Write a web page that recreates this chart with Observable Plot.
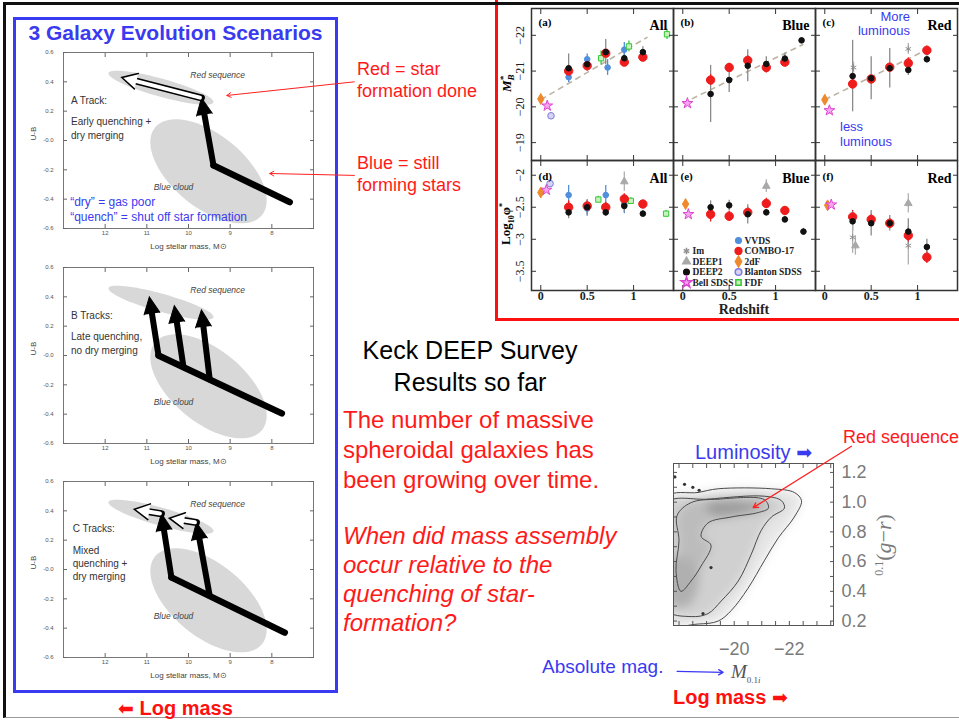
<!DOCTYPE html>
<html><head><meta charset="utf-8">
<script src="https://cdn.jsdelivr.net/npm/d3@7"></script>
<script src="https://cdn.jsdelivr.net/npm/@observablehq/plot@0.6"></script>
<style>
body{margin:0;background:#fff;}
#slide{position:relative;width:959px;height:720px;overflow:hidden;background:#fff;font-family:Arial,"Liberation Sans",sans-serif;}
.abs{position:absolute;white-space:nowrap;}
.rot{position:absolute;white-space:nowrap;transform:translate(-50%,-50%) rotate(-90deg);}
.arw{font-family:"DejaVu Sans",sans-serif;font-weight:normal;}
</style></head><body><div id="slide"></div>
<script>
// ================= DATA =================
// --- left: three evolution scenario panels (log stellar mass vs U-B) ---
const massTicks = [12, 11, 10, 9, 8];
const colorTicks = [-0.6, -0.4, -0.2, 0, 0.2, 0.4, 0.6];
const colorTickLabels = ["-0.6", "-0.4", "-0.2", "-0.0", "0.2", "0.4", "0.6"];
// regions: centre (mass, U-B) and two half-axis vectors in data units
const regionNames = ["Red sequence", "Blue cloud"];
const regionCentre = [[10.66, 0.36], [9.52, -0.21]];
const regionAxisA = [[-1.26, -0.10], [-1.28, -0.30]];
const regionAxisB = [[0.06, -0.059], [0.56, -0.19]];
const regionLabelPos = [[9.3, 0.445], [10.36, -0.32]];
// tracks: [panel, mass1, color1, mass2, color2]
const tracksMain = [
  ["A", 7.57, -0.42, 9.40, -0.17],
  ["B", 7.76, -0.395, 10.72, 0.0],
  ["C", 7.69, -0.43, 10.41, -0.054]
];
const tracksQuench = [
  ["A", 9.40, -0.17, 9.69, 0.29],
  ["B", 10.72, 0.0, 10.94, 0.40],
  ["B", 10.12, -0.08, 10.34, 0.34],
  ["B", 9.49, -0.164, 9.69, 0.31],
  ["C", 10.41, -0.054, 10.65, 0.38],
  ["C", 9.49, -0.181, 9.81, 0.32]
];
const tracksDryMerge = [
  ["A", 9.69, 0.29, 11.6, 0.43],
  ["C", 10.65, 0.38, 11.3, 0.41],
  ["C", 9.81, 0.32, 10.46, 0.35]
];
const panelNotes = [
  ["A", 12.82, 0.27, "A Track:"],
  ["A", 12.82, 0.13, "Early quenching +"],
  ["A", 12.82, 0.035, "dry merging"],
  ["B", 12.82, 0.27, "B Tracks:"],
  ["B", 12.82, 0.13, "Late quenching,"],
  ["B", 12.82, 0.03, "no dry merging"],
  ["C", 12.78, 0.28, "C Tracks:"],
  ["C", 12.78, 0.13, "Mixed"],
  ["C", 12.78, 0.04, "quenching +"],
  ["C", 12.78, -0.05, "dry merging"]
];
const blueNotes = [
  [12.84, -0.42, "\u201Cdry\u201D = gas poor"],
  [12.84, -0.525, "\u201Cquench\u201D = shut off star formation"]
];
const redPointers = [[6.02, 0.40, 9.08, 0.307], [6.02, -0.238, 8.05, -0.225]];

// --- top right: luminosity function parameters vs redshift ---
const surveys = ["Im", "DEEP1", "DEEP2", "Bell SDSS", "VVDS", "COMBO-17", "2dF", "Blanton SDSS", "FDF"];
const surveySymbol = ["asterisk", "triangle", "circle", "star", "circle", "circle", "diamond", "circle", "square"];
const surveyFill = ["none", "#a9a9a9", "#111111", "#f6a6ee", "#4f8fdc", "#ee1c1c", "#ef8a2c", "#d8d2f4", "#c6f2be"];
const surveyStroke = ["#8f8f8f", "#a9a9a9", "#111111", "#dd44d4", "#4f8fdc", "#ee1c1c", "#ef8a2c", "#7c7ce0", "#36c636"];
const surveyR = [3, 2.8, 2.8, 3.4, 2.8, 4.2, 3.3, 3.3, 3];
const surveyErr = ["#b0b0b0", "#b0b0b0", "#8a8a8a", "#dd44d4", "#4f8fdc", "#ee1c1c", "#ef8a2c", "#7c7ce0", "#36c636"];
const drawOrder = ["VVDS", "FDF", "Im", "DEEP1", "COMBO-17", "DEEP2", "2dF", "Bell SDSS", "Blanton SDSS"];
// [panel, survey, z, M*_B, error]
const magRows = [
  ["a","2dF",0.0,-20.22,0.05],["a","Bell SDSS",0.07,-20.03,0.1],["a","Blanton SDSS",0.11,-19.75,0.05],
  ["a","DEEP2",0.3,-21.08,0.4],["a","COMBO-17",0.3,-21.0,0.15],["a","VVDS",0.3,-20.83,0.15],
  ["a","DEEP2",0.5,-21.19,0.2],["a","COMBO-17",0.5,-21.15,0.1],["a","VVDS",0.5,-21.33,0.15],
  ["a","FDF",0.65,-21.36,0.2],["a","DEEP2",0.7,-21.53,0.35],["a","COMBO-17",0.7,-21.5,0.1],["a","VVDS",0.72,-21.1,0.22],
  ["a","DEEP2",0.9,-21.36,0.2],["a","COMBO-17",0.9,-21.25,0.1],["a","VVDS",0.9,-21.6,0.2],["a","FDF",0.95,-21.69,0.15],
  ["a","DEEP2",1.1,-21.53,0.15],["a","COMBO-17",1.1,-21.39,0.1],["a","VVDS",1.1,-21.42,0.15],["a","FDF",1.36,-22.03,0.15],
  ["b","Bell SDSS",0.05,-20.1,0.05],["b","DEEP2",0.3,-20.36,0.8],["b","COMBO-17",0.3,-20.75,0.15],
  ["b","DEEP2",0.5,-20.75,0.35],["b","COMBO-17",0.5,-21.1,0.12],["b","DEEP2",0.7,-21.15,0.45],["b","COMBO-17",0.7,-21.3,0.12],
  ["b","DEEP2",0.9,-21.2,0.2],["b","COMBO-17",0.9,-21.1,0.15],["b","DEEP2",1.1,-21.35,0.15],["b","COMBO-17",1.1,-21.25,0.12],
  ["b","DEEP2",1.28,-21.86,0.05],
  ["c","2dF",0.0,-20.2,0.05],["c","Bell SDSS",0.05,-19.9,0.1],["c","DEEP2",0.3,-20.86,1.0],["c","Im",0.31,-21.1,0.15],
  ["c","COMBO-17",0.3,-20.64,0.12],["c","DEEP2",0.5,-20.8,0.6],["c","COMBO-17",0.5,-20.78,0.1],
  ["c","DEEP2",0.7,-21.08,0.55],["c","COMBO-17",0.7,-21.11,0.1],["c","DEEP2",0.9,-21.03,0.15],["c","COMBO-17",0.9,-21.22,0.15],
  ["c","Im",0.9,-21.62,0.15],["c","DEEP2",1.1,-21.33,0.1],["c","COMBO-17",1.1,-21.58,0.12]
];
// [panel, survey, z, log10 phi*, error]
const phiRows = [
  ["d","2dF",0.0,-2.27,0.03],["d","Bell SDSS",0.06,-2.23,0.03],["d","Blanton SDSS",0.1,-2.13,0.03],
  ["d","VVDS",0.3,-2.31,0.15],["d","COMBO-17",0.3,-2.5,0.1],["d","DEEP2",0.3,-2.58,0.1],
  ["d","VVDS",0.5,-2.52,0.12],["d","COMBO-17",0.5,-2.48,0.08],["d","DEEP2",0.5,-2.5,0.12],["d","FDF",0.62,-2.38,0.05],
  ["d","VVDS",0.7,-2.31,0.15],["d","COMBO-17",0.7,-2.5,0.08],["d","DEEP2",0.7,-2.58,0.06],
  ["d","DEEP1",0.9,-2.1,0.15],["d","VVDS",0.9,-2.45,0.15],["d","COMBO-17",0.9,-2.37,0.08],["d","DEEP2",0.9,-2.48,0.1],
  ["d","FDF",0.97,-2.4,0.05],["d","VVDS",1.1,-2.45,0.05],["d","COMBO-17",1.1,-2.45,0.05],["d","DEEP2",1.1,-2.6,0.05],
  ["d","FDF",1.35,-2.6,0.05],
  ["e","2dF",0.03,-2.45,0.03],["e","Bell SDSS",0.06,-2.61,0.03],["e","DEEP2",0.3,-2.5,0.1],["e","COMBO-17",0.3,-2.61,0.12],
  ["e","DEEP2",0.5,-2.47,0.08],["e","COMBO-17",0.5,-2.64,0.08],["e","COMBO-17",0.7,-2.58,0.08],["e","DEEP2",0.7,-2.61,0.15],
  ["e","DEEP1",0.9,-2.17,0.1],["e","COMBO-17",0.9,-2.44,0.08],["e","DEEP2",0.9,-2.58,0.05],
  ["e","COMBO-17",1.1,-2.55,0.05],["e","DEEP2",1.1,-2.69,0.05],["e","DEEP2",1.3,-2.88,0.05],
  ["f","2dF",0.03,-2.47,0.03],["f","Bell SDSS",0.07,-2.46,0.03],["f","COMBO-17",0.3,-2.65,0.1],["f","DEEP2",0.3,-2.72,0.15],
  ["f","Im",0.3,-2.97,0.25],["f","DEEP1",0.33,-3.1,0.15],["f","COMBO-17",0.5,-2.69,0.08],["f","DEEP2",0.5,-2.75,0.2],
  ["f","COMBO-17",0.7,-2.75,0.08],["f","DEEP2",0.7,-2.75,0.12],["f","DEEP1",0.9,-2.44,0.15],["f","Im",0.9,-3.1,0.3],
  ["f","DEEP2",0.9,-2.88,0.2],["f","COMBO-17",0.9,-2.94,0.1],["f","COMBO-17",1.1,-3.28,0.1],["f","DEEP2",1.1,-3.12,0.12]
];
const fitLines = [["a",0.0,-20.2,1.15,-21.95],["b",0.0,-20.1,1.3,-21.75],["c",0.0,-20.2,1.1,-21.6]];
const panelTags = [["a","(a)","All"],["b","(b)","Blue"],["c","(c)","Red"],["d","(d)","All"],["e","(e)","Blue"],["f","(f)","Red"]];
const zTicks = [0, 0.5, 1];
const magTicks = [-22, -21, -20, -19];
const phiTicks = [-2, -2.5, -3, -3.5];
const legendLeft = ["Im", "DEEP1", "DEEP2", "Bell SDSS"];
const legendRight = ["VVDS", "COMBO-17", "2dF", "Blanton SDSS", "FDF"];

// --- bottom right: colour-magnitude density (SDSS) ---
const contourOuter = [[-17.5,1.03],[-18.69,1.065],[-19.42,1.09],[-21.35,1.09],[-22.18,1.065],[-22.44,1.01],[-22.18,0.90],[-21.6,0.76],[-21.09,0.605],[-20.5,0.42],[-19.89,0.27],[-19.42,0.2],[-18.7,0.18],[-17.5,0.19]];
const contourMiddle = [[-17.5,0.99],[-19.05,1.02],[-21.09,1.04],[-21.71,1.01],[-21.82,0.96],[-21.35,0.90],[-20.98,0.81],[-20.62,0.65],[-20.15,0.47],[-19.53,0.335],[-19.05,0.25],[-18.44,0.23],[-17.5,0.28]];
const contourInner = [[-18.44,0.997],[-19.42,1.02],[-21.09,1.017],[-21.24,0.96],[-20.87,0.93],[-19.89,0.90],[-19.05,0.86],[-18.8,0.77],[-19.16,0.71],[-18.8,0.57],[-18.44,0.47],[-18.07,0.40],[-17.89,0.54],[-18.0,0.74],[-17.93,0.91]];
const coreRed = [[-19.0,0.98],[-20.2,1.0],[-20.9,0.97],[-20.3,0.93],[-19.2,0.92]];
const coreBlue = [[-17.7,0.62],[-18.5,0.6],[-18.7,0.45],[-18.3,0.3],[-17.7,0.32]];
const outliers = [[-17.85,1.17],[-18.73,1.08],[-18.5,1.1],[-19.16,0.56],[-18.87,0.25],[-18.2,1.12]];
const grTicks = [0.2, 0.4, 0.6, 0.8, 1.0, 1.2];
const absMagTicks = [-20, -22];
const densityPointers = [["#ff2020", -24.25, 1.376, -20.69, 0.963], ["#3a3af0", -17.93, -0.138, -19.6, -0.145]];

// ================= LAYOUT HELPERS =================
const slide = document.getElementById("slide");
function place(el, left, top) {
  el.style.position = "absolute"; el.style.left = left + "px"; el.style.top = top + "px";
  el.style.overflow = "visible"; el.style.background = "transparent"; el.style.maxWidth = "none";
  slide.appendChild(el); return el;
}
function text(html, left, top, css, cls = "abs") {
  const d = document.createElement("div"); d.className = cls; d.innerHTML = html;
  d.style.cssText += css; d.style.left = left + "px"; d.style.top = top + "px";
  slide.appendChild(d); return d;
}
function box(left, top, w, h, css) {
  const d = document.createElement("div");
  d.style.cssText = `position:absolute;left:${left}px;top:${top}px;width:${w}px;height:${h}px;box-sizing:border-box;` + css;
  slide.appendChild(d); return d;
}

// ================= FRAMES =================
box(495, -5, 480, 326, "border:3px solid #ff1010;");
box(3, 2, 970, 716, "border-top:3px solid #111;border-left:3px solid #111;border-bottom:1px solid #999;");
box(13, 17, 325, 676, "border:3px solid #3a3af0;");

// ================= LEFT PANELS =================
const TRACK = {width: 330, height: 216, ml: 30, mr: 50, mt: 10, mb: 30, x: [13, 7], y: [-0.6, 0.6]};
const kx = (TRACK.width - TRACK.ml - TRACK.mr) / (TRACK.x[1] - TRACK.x[0]);
const ky = (TRACK.height - TRACK.mt - TRACK.mb) / (TRACK.y[1] - TRACK.y[0]);
const heading = d => Math.atan2((d.x2 - d.x1) * kx, (d.y2 - d.y1) * ky) * 180 / Math.PI;

const regionPts = regionNames.flatMap((name, k) => d3.range(0, 73).map(i => {
  const t = i / 72 * 2 * Math.PI;
  return {name,
    x: regionCentre[k][0] + regionAxisA[k][0] * Math.cos(t) + regionAxisB[k][0] * Math.sin(t),
    y: regionCentre[k][1] + regionAxisA[k][1] * Math.cos(t) + regionAxisB[k][1] * Math.sin(t)};
}));
const regionLabels = regionNames.map((name, k) => ({name, x: regionLabelPos[k][0], y: regionLabelPos[k][1]}));
const toSeg = r => ({p: r[0], x1: r[1], y1: r[2], x2: r[3], y2: r[4]});

function trackPanel(p, top) {
  const main = tracksMain.filter(r => r[0] === p).map(toSeg);
  const quench = tracksQuench.filter(r => r[0] === p).map(toSeg);
  const dry = tracksDryMerge.filter(r => r[0] === p).map(toSeg);
  const notes = panelNotes.filter(r => r[0] === p).map(r => ({x: r[1], y: r[2], t: r[3]}));
  const seg = {x1: "x1", y1: "y1", x2: "x2", y2: "y2"};
  const marks = [
    Plot.line(regionPts, {x: "x", y: "y", z: "name", fill: "#d8d8d8", stroke: "none", curve: "linear-closed"}),
    Plot.frame({stroke: "#777", strokeWidth: 1}),
    Plot.axisX({anchor: "bottom", ticks: massTicks, tickSize: 0, tickPadding: 2, fontSize: 6, fill: "#555", tickFormat: d => String(d), label: null}),
    Plot.axisX({anchor: "bottom", ticks: massTicks, tickSize: -4, stroke: "#666", tickFormat: () => "", label: null}),
    Plot.axisX({anchor: "top", ticks: massTicks, tickSize: -4, stroke: "#666", tickFormat: () => "", label: null}),
    Plot.axisY({anchor: "left", ticks: colorTicks, tickSize: 0, tickPadding: 10, fontSize: 6, fill: "#555", tickFormat: (d, i) => colorTickLabels[i], label: null}),
    Plot.axisY({anchor: "left", ticks: colorTicks, tickSize: -4, stroke: "#666", tickFormat: () => "", label: null}),
    Plot.axisY({anchor: "right", ticks: colorTicks, tickSize: -4, stroke: "#666", tickFormat: () => "", label: null}),
    Plot.text(["Log stellar mass, M\u2299"], {frameAnchor: "bottom", dy: 20, fontSize: 8, fill: "#444"}),
    Plot.text(["U-B"], {frameAnchor: "left", dx: -30, rotate: -90, fontSize: 8, fill: "#444"}),
    Plot.text(regionLabels, {x: "x", y: "y", text: "name", fontSize: 8.5, fontStyle: "italic", fill: "#444"}),
    Plot.text(notes, {x: "x", y: "y", text: "t", textAnchor: "start", fontSize: 10, fill: "#333"}),
    Plot.link(main, {...seg, stroke: "#000", strokeWidth: 6.5, strokeLinecap: "round"}),
    // quenching: solid shaft + filled head
    Plot.arrow(quench, {...seg, stroke: "#000", strokeWidth: 6, headLength: 0, insetEnd: 11}),
    Plot.vector(quench, {x: "x2", y: "y2", rotate: heading, length: 17, r: 8, shape: "spike", anchor: "end", fill: "#000", stroke: "#000", strokeWidth: 1, strokeLinejoin: "miter"}),
    // dry merging: hollow arrow
    Plot.arrow(dry, {...seg, stroke: "#000", strokeWidth: 7, headLength: 0, insetEnd: 10}),
    Plot.arrow(dry, {...seg, stroke: "#fff", strokeWidth: 4, headLength: 0, insetStart: 1.5, insetEnd: 9}),
    Plot.vector(dry, {x: "x2", y: "y2", rotate: heading, length: 15, r: 8, shape: "spike", anchor: "end", fill: "#fff", stroke: "#000", strokeWidth: 1.5, strokeLinejoin: "miter"})
  ];
  if (p === "A") {
    marks.push(Plot.text(blueNotes, {x: d => d[0], y: d => d[1], text: d => d[2], textAnchor: "start", fontSize: 12, fill: "#3a3af0"}));
    marks.push(Plot.arrow(redPointers, {x1: d => d[0], y1: d => d[1], x2: d => d[2], y2: d => d[3], stroke: "#ff2020", strokeWidth: 1, headLength: 7}));
  }
  const svg = Plot.plot({
    width: TRACK.width, height: TRACK.height, marginLeft: TRACK.ml, marginRight: TRACK.mr, marginTop: TRACK.mt, marginBottom: TRACK.mb,
    style: {fontFamily: "Arial, sans-serif", background: "transparent", overflow: "visible"},
    x: {domain: TRACK.x, label: null}, y: {domain: TRACK.y, label: null},
    marks
  });
  place(svg, 33, top);
}
trackPanel("A", 42);
trackPanel("B", 257);
trackPanel("C", 471);

// ================= TOP RIGHT: redshift evolution =================
const toPt = r => ({panel: r[0], survey: r[1], z: r[2], v: r[3], e: r[4]});
const magData = magRows.map(toPt);
const phiData = phiRows.map(toPt);
const sIdx = s => surveys.indexOf(s);
function pointMarks(data) {
  const m = [Plot.ruleX(data, {fx: "panel", x: "z", y1: d => d.v - d.e, y2: d => d.v + d.e, stroke: d => surveyErr[sIdx(d.survey)], strokeWidth: 1.3})];
  for (const s of drawOrder) {
    const k = sIdx(s);
    m.push(Plot.dot(data.filter(d => d.survey === s), {fx: "panel", x: "z", y: "v", symbol: surveySymbol[k], r: surveyR[k], fill: surveyFill[k], stroke: surveyStroke[k], strokeWidth: 1}));
  }
  return m;
}
function frameAxes(yTicks) {
  return [
    Plot.frame({stroke: "#333", strokeWidth: 1.5}),
    Plot.axisX({anchor: "bottom", ticks: zTicks, tickSize: -5, stroke: "#333", tickFormat: () => "", label: null, facetAnchor: null}),
    Plot.axisX({anchor: "top", ticks: zTicks, tickSize: -5, stroke: "#333", tickFormat: () => "", label: null, facetAnchor: null}),
    Plot.axisY({anchor: "left", ticks: yTicks, tickSize: -5, stroke: "#333", tickFormat: () => "", label: null, facetAnchor: null}),
    Plot.axisY({anchor: "right", ticks: yTicks, tickSize: -5, stroke: "#333", tickFormat: () => "", label: null, facetAnchor: null}),
    Plot.axisY({anchor: "left", ticks: yTicks, tickSize: 0, tickPadding: 8, tickRotate: -90, fontSize: 12, fill: "#222", tickFormat: d => "\u2212" + Math.abs(d), label: null})
  ];
}
const tagsTop = panelTags.slice(0, 3).map(r => ({panel: r[0], tag: r[1], group: r[2]}));
const tagsBottom = panelTags.slice(3).map(r => ({panel: r[0], tag: r[1], group: r[2]}));
const serif = "'Liberation Serif', 'DejaVu Serif', serif";
const topPlot = Plot.plot({
  width: 464, height: 160, marginLeft: 36, marginRight: 2, marginTop: 8, marginBottom: 0,
  style: {fontFamily: serif, background: "transparent", overflow: "visible"},
  fx: {domain: ["a", "b", "c"], axis: null, padding: 0, label: null},
  x: {domain: [-0.1, 1.43], label: null},
  y: {domain: [-18.5, -22.75], label: null},
  marks: [
    Plot.link(fitLines, {fx: d => d[0], x1: d => d[1], y1: d => d[2], x2: d => d[3], y2: d => d[4], stroke: "#bdb3a3", strokeWidth: 1.6, strokeDasharray: "6,4"}),
    ...pointMarks(magData),
    ...frameAxes(magTicks),
    Plot.text(tagsTop, {fx: "panel", text: "tag", frameAnchor: "top-left", dx: 7, dy: 10, fontSize: 11, fontWeight: "bold"}),
    Plot.text(tagsTop, {fx: "panel", text: "group", frameAnchor: "top-right", dx: -6, dy: 12, fontSize: 14, fontWeight: "bold"})
  ]
});
place(topPlot, 495, 0);
const bottomPlot = Plot.plot({
  width: 464, height: 160, marginLeft: 36, marginRight: 2, marginTop: 0, marginBottom: 30,
  style: {fontFamily: serif, background: "transparent", overflow: "visible"},
  fx: {domain: ["d", "e", "f"], axis: null, padding: 0, label: null},
  x: {domain: [-0.1, 1.43], label: null},
  y: {domain: [-3.8, -1.77], label: null},
  marks: [
    ...pointMarks(phiData),
    ...frameAxes(phiTicks),
    Plot.axisX({anchor: "bottom", ticks: zTicks, tickSize: 0, tickPadding: 1, fontSize: 12, fontWeight: "bold", fill: "#222", tickFormat: d => String(d), label: null}),
    Plot.text(tagsBottom, {fx: "panel", text: "tag", frameAnchor: "top-left", dx: 7, dy: 12, fontSize: 11, fontWeight: "bold"}),
    Plot.text(tagsBottom, {fx: "panel", text: "group", frameAnchor: "top-right", dx: -6, dy: 13, fontSize: 14, fontWeight: "bold"})
  ]
});
place(bottomPlot, 495, 160);

// legend (inside panel e)
const legendItems = [...legendLeft.map((s, i) => ({s, col: 0, row: i + 1})), ...legendRight.map((s, i) => ({s, col: 1, row: i}))];
const legendPlot = Plot.plot({
  width: 140, height: 56, margin: 0,
  style: {fontFamily: serif, background: "transparent", overflow: "visible"},
  x: {domain: [0, 1], range: [6, 58], axis: null}, y: {domain: [0, 4], range: [6, 48], axis: null},
  marks: [
    ...legendItems.map(d => { const k = sIdx(d.s); return Plot.dot([d], {x: "col", y: "row", symbol: surveySymbol[k], r: Math.min(surveyR[k], 3.4), fill: surveyFill[k], stroke: surveyStroke[k]}); }),
    Plot.text(legendItems, {x: "col", y: "row", text: "s", dx: 6, textAnchor: "start", fontSize: 9.5, fontWeight: "bold", fill: "#222"})
  ]
});
place(legendPlot, 680, 234);

// ================= BOTTOM RIGHT: colour-magnitude density =================
const toXY = (arr, name) => arr.map(([x, y]) => ({x, y, name}));
const shading = [
  ...toXY(contourOuter, "outer"), ...toXY(contourMiddle, "middle"), ...toXY(contourInner, "inner"),
  ...toXY(coreRed, "coreRed"), ...toXY(coreBlue, "coreBlue")
];
const shadeFill = {outer: "#e6e6e6", middle: "#d0d0d0", inner: "#bcbcbc", coreRed: "#9c9c9c", coreBlue: "#b0b0b0"};
const contours = [...toXY(contourOuter, "outer"), ...toXY(contourMiddle, "middle"), ...toXY(contourInner, "inner")];
const densityPlot = Plot.plot({
  width: 270, height: 255, marginLeft: 30, marginRight: 80, marginTop: 33, marginBottom: 60,
  style: {fontFamily: "Arial, sans-serif", background: "transparent", overflow: "visible"},
  x: {domain: [-17.8, -23.6], label: null}, y: {domain: [0.17, 1.26], label: null},
  marks: [
    Plot.line(shading, {x: "x", y: "y", z: "name", fill: d => shadeFill[d.name], stroke: "none", curve: "catmull-rom-closed", clip: true, className: "shade"}),
    Plot.line(contours, {x: "x", y: "y", z: "name", stroke: "#4a4a4a", strokeWidth: 1, curve: "catmull-rom-closed", clip: true}),
    Plot.dot(outliers, {x: d => d[0], y: d => d[1], r: 1.6, fill: "#333"}),
    Plot.frame({stroke: "#555", strokeWidth: 1}),
    Plot.axisX({anchor: "bottom", ticks: d3.range(-18, -23.6, -0.5), tickSize: -4, stroke: "#555", tickFormat: () => "", label: null}),
    Plot.axisX({anchor: "top", ticks: d3.range(-18, -23.6, -0.5), tickSize: -4, stroke: "#555", tickFormat: () => "", label: null}),
    Plot.axisY({anchor: "left", ticks: d3.range(0.2, 1.25, 0.1), tickSize: -4, stroke: "#555", tickFormat: () => "", label: null}),
    Plot.axisY({anchor: "right", ticks: d3.range(0.2, 1.25, 0.1), tickSize: -4, stroke: "#555", tickFormat: () => "", label: null}),
    Plot.axisY({anchor: "right", ticks: grTicks, tickSize: 0, tickPadding: 8, fontSize: 18, fill: "#7a7a7a", tickFormat: d => d.toFixed(1), label: null}),
    Plot.axisX({anchor: "bottom", ticks: absMagTicks, tickSize: 0, tickPadding: 17, fontSize: 18, fill: "#7a7a7a", tickFormat: d => "\u2212" + Math.abs(d), label: null}),
    Plot.arrow(densityPointers, {x1: d => d[1], y1: d => d[2], x2: d => d[3], y2: d => d[4], stroke: d => d[0], strokeWidth: 1.3, headLength: 6})
  ]
});
place(densityPlot, 643, 430);
densityPlot.querySelectorAll(".shade, .shade path").forEach(el => el.style.filter = "blur(3px)");

// ================= TEXT =================
text("3 Galaxy Evolution Scenarios", 13, 21, "width:325px;text-align:center;font-weight:bold;font-size:21px;line-height:24px;color:#3a3af0;");
text("Red = star<br>formation done", 357, 58, "font-size:18px;line-height:22px;color:#ff1a1a;");
text("Blue = still<br>forming stars", 357, 152, "font-size:18px;line-height:22px;color:#ff1a1a;");
text("Keck DEEP Survey<br>Results so far", 340, 334, "width:260px;text-align:center;font-size:25px;line-height:32px;color:#000;");
text("The number of massive<br>spheroidal galaxies has<br>been growing over time.", 343, 405, "font-size:24px;line-height:30px;color:#ff1a1a;");
text("When did mass assembly<br>occur relative to the<br>quenching of star-<br>formation?", 343, 521, "font-size:24px;line-height:29px;color:#ff1a1a;font-style:italic;");
text("More<br>luminous", 850, 10, "width:60px;text-align:right;font-size:13px;line-height:14px;color:#3a3af0;");
text("less<br>luminous", 840, 119, "font-size:13px;line-height:15px;color:#3a3af0;");
text("M<sub style='font-size:9px'>B</sub><sup style='font-size:9px;margin-left:-6px'>*</sup>", 507, 84, "font-family:" + serif + ";font-weight:bold;font-style:italic;font-size:13px;", "rot");
text("Log<sub style='font-size:8px'>10</sub>\u03C6<sup style='font-size:8px'>*</sup>", 507, 224, "font-family:" + serif + ";font-weight:bold;font-size:13px;", "rot");
text("Redshift", 704, 302, "width:80px;text-align:center;font-family:" + serif + ";font-weight:bold;font-size:14px;line-height:16px;color:#222;");
text("Luminosity <span class='arw' style='font-size:19px'>\u27A1</span>", 695, 440, "font-size:20px;line-height:24px;color:#3a3af0;");
text("Red sequence", 843, 426, "font-size:18px;line-height:22px;color:#ff1a1a;");
text("Absolute mag.", 542, 655, "font-size:19px;line-height:24px;color:#3a3af0;");
text("Log mass <span class='arw' style='font-size:19px'>\u27A1</span>", 673, 685, "font-size:20px;line-height:24px;font-weight:bold;color:#ff1010;");
text("<span class='arw' style='font-size:19px'>\u2B05</span> Log mass", 118, 696, "font-size:20px;line-height:24px;font-weight:bold;color:#ff1010;");
text("<i>M</i><sub style='font-size:9px'>0.1<i>i</i></sub>", 731, 661, "font-family:" + serif + ";font-size:19px;color:#555;");
text("<sup style='font-size:12px'>0.1</sup>(<i>g</i>\u2212<i>r</i>)", 884, 545, "font-family:" + serif + ";font-size:22px;color:#7a7a7a;", "rot");
</script></body></html>
